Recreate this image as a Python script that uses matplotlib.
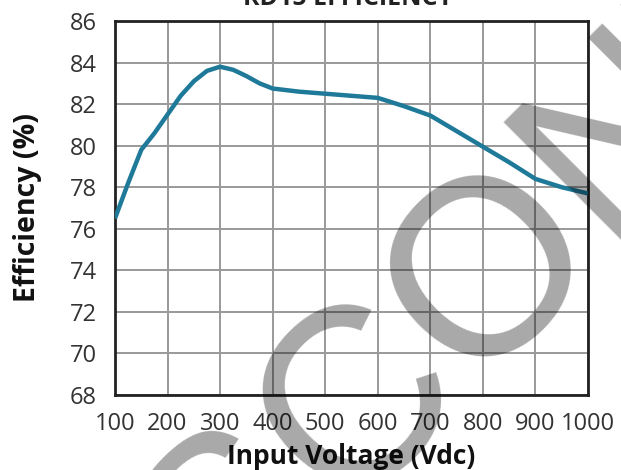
import matplotlib
matplotlib.use("Agg")
import numpy as np
import matplotlib.pyplot as plt
from matplotlib.textpath import TextPath
from matplotlib.font_manager import FontProperties

voltage = [100, 125, 150, 175, 200, 225, 250, 275, 300, 325, 350, 375, 400,
           450, 500, 550, 600, 650, 700, 750, 800, 850, 900, 950, 1000]
efficiency = [76.5, 78.2, 79.8, 80.6, 81.5, 82.4, 83.1, 83.6, 83.8, 83.65, 83.35, 83.0, 82.75,
              82.6, 82.5, 82.4, 82.3, 81.9, 81.45, 80.7, 79.95, 79.2, 78.4, 78.0, 77.7]
x_ticks = [100, 200, 300, 400, 500, 600, 700, 800, 900, 1000]
y_ticks = [68, 70, 72, 74, 76, 78, 80, 82, 84, 86]

plt.rcParams['font.family'] = ['Open Sans', 'DejaVu Sans']

W, H = 621, 470
fig = plt.figure(figsize=(W / 100, H / 100), dpi=100)
ax = fig.add_axes([115 / W, 75 / H, 473 / W, 374 / H])

ax.plot(voltage, efficiency, color='#1f7a99', lw=3.2, solid_capstyle='butt', zorder=3)
ax.set_xlim(100, 1000)
ax.set_ylim(68, 86)
ax.set_xticks(x_ticks)
ax.set_yticks(y_ticks)
ax.tick_params(length=0, labelsize=17, colors='#333333')
ax.tick_params(axis='x', pad=12)
ax.tick_params(axis='y', pad=13)
ax.grid(True, color='#999999', lw=1.4)
ax.set_axisbelow(True)
for s in ax.spines.values():
    s.set_color('#222222')
    s.set_linewidth(2)

ax.set_xlabel('Input Voltage (Vdc)', fontsize=19, fontweight='bold', color='#111111', labelpad=5)
ax.set_ylabel('Efficiency (%)', fontsize=20.5, fontweight='bold', color='#111111', labelpad=20)

fig.text(348 / W, 1 - 5 / H, 'RD15 EFFICIENCY', ha='center', va='baseline',
         fontsize=18, fontweight='bold', color='#222222')

# watermark, placed so that its "O" is centred at the reference position
wm_text = 'DISCONTINUED'
wm_family = 'Liberation Sans'
wm_fs = 180
wm_rot = 45
fp = FontProperties(family=wm_family)
px = wm_fs * 100 / 72
ext_pre = TextPath((0, 0), 'DISCO', size=px, prop=fp).get_extents()
ext_o = TextPath((0, 0), 'O', size=px, prop=fp).get_extents()
ox = ext_pre.x1 - ext_o.width / 2
oy = ext_o.y0 + ext_o.height / 2
th = np.deg2rad(wm_rot)
tx, ty = 476, H - 252
ax_x = tx - (ox * np.cos(th) - oy * np.sin(th))
ax_y = ty - (ox * np.sin(th) + oy * np.cos(th))
fig.text(ax_x / W, ax_y / H, wm_text, ha='left', va='baseline', rotation=wm_rot,
         rotation_mode='anchor', fontsize=wm_fs, family=wm_family,
         color='black', alpha=0.34, zorder=10)

fig.savefig('out.png', dpi=100)
